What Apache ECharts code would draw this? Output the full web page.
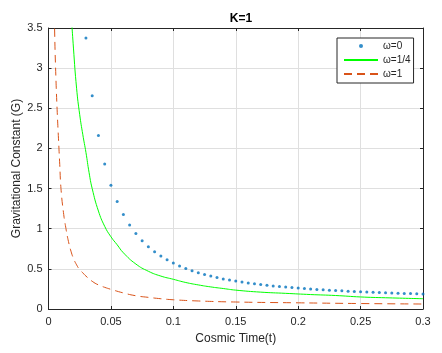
<!DOCTYPE html>
<html>
<head>
<meta charset="utf-8">
<title>K=1</title>
<script src="https://cdn.jsdelivr.net/npm/echarts@6/dist/echarts.min.js"></script>
<style>
  html, body { margin: 0; padding: 0; background: #fff; }
  #chart { width: 442px; height: 353px; }
</style>
</head>
<body>
<div id="chart"></div>
<script>
// omega = 0 (dots)
var tDots = [0.030, 0.035, 0.040, 0.045, 0.050, 0.055, 0.060, 0.065, 0.070, 0.075,
             0.080, 0.085, 0.090, 0.095, 0.100, 0.105, 0.110, 0.115, 0.120, 0.125,
             0.130, 0.135, 0.140, 0.145, 0.150, 0.155, 0.160, 0.165, 0.170, 0.175,
             0.180, 0.185, 0.190, 0.195, 0.200, 0.205, 0.210, 0.215, 0.220, 0.225,
             0.230, 0.235, 0.240, 0.245, 0.250, 0.255, 0.260, 0.265, 0.270, 0.275,
             0.280, 0.285, 0.290, 0.295, 0.300];
var gDots = [3.375, 2.656, 2.160, 1.805, 1.542, 1.338, 1.176, 1.045, 0.939, 0.850,
             0.775, 0.713, 0.660, 0.613, 0.573, 0.537, 0.505, 0.477, 0.452, 0.430,
             0.410, 0.392, 0.375, 0.361, 0.348, 0.336, 0.325, 0.315, 0.305, 0.296,
             0.288, 0.280, 0.273, 0.267, 0.261, 0.255, 0.249, 0.244, 0.239, 0.234,
             0.230, 0.226, 0.222, 0.218, 0.214, 0.211, 0.208, 0.205, 0.202, 0.199,
             0.197, 0.194, 0.192, 0.190, 0.188];

// omega = 1/4 (solid green)
var tQuarter = [0.015, 0.0175, 0.020, 0.0225, 0.025, 0.0275, 0.030, 0.0325, 0.035, 0.040,
                0.045, 0.050, 0.055, 0.060, 0.070, 0.080, 0.090, 0.100, 0.110, 0.120,
                0.130, 0.140, 0.150, 0.170, 0.190, 0.210, 0.230, 0.250, 0.270, 0.300];
var gQuarter = [4.60, 3.85, 3.25, 2.75, 2.42, 2.17, 1.95, 1.70, 1.50, 1.22,
                1.03, 0.90, 0.80, 0.70, 0.56, 0.47, 0.41, 0.37, 0.33, 0.30,
                0.275, 0.255, 0.235, 0.21, 0.195, 0.18, 0.168, 0.150, 0.140, 0.128];

// omega = 1 (dashed orange)
var tOne = [0.004, 0.005, 0.006, 0.007, 0.008, 0.009, 0.010, 0.012, 0.014, 0.016,
            0.018, 0.020, 0.0225, 0.025, 0.0275, 0.030, 0.035, 0.040, 0.045, 0.050,
            0.060, 0.070, 0.080, 0.090, 0.100, 0.120, 0.150, 0.200, 0.250, 0.300];
var gOne = [4.30, 3.40, 2.85, 2.45, 2.12, 1.80, 1.50, 1.20, 1.00, 0.84,
            0.72, 0.63, 0.55, 0.49, 0.45, 0.41, 0.345, 0.30, 0.27, 0.245,
            0.20, 0.165, 0.145, 0.128, 0.115, 0.100, 0.087, 0.077, 0.068, 0.062];

function pairs(xs, ys) {
  var out = [];
  for (var i = 0; i < xs.length; i++) out.push([xs[i], ys[i]]);
  return out;
}

var txt = '#262626';
var font = 'Liberation Sans, Arial, Helvetica, sans-serif';

var myChart = echarts.init(document.getElementById('chart'));
var option = {
  backgroundColor: '#fff',
  animation: false,
  textStyle: { fontFamily: font },
  title: {
    text: 'K=1',
    left: 236,
    top: 8,
    textAlign: 'center',
    textStyle: { fontFamily: font, fontSize: 12, fontWeight: 'bold', color: '#000' }
  },
  grid: { left: 48.5, right: 19, top: 28, bottom: 44, containLabel: false, outerBoundsMode: 'none' },
  legend: {
    orient: 'vertical',
    left: 337,
    top: 38,
    itemWidth: 34,
    itemHeight: 4,
    itemGap: 2,
    padding: [2, 3, 3, 6],
    borderColor: txt,
    borderWidth: 1,
    backgroundColor: '#fff',
    textStyle: { fontFamily: font, fontSize: 10, color: txt, lineHeight: 12 },
    data: [
      { name: 'ω=0' },
      { name: 'ω=1/4', itemStyle: { opacity: 0 } },
      { name: 'ω=1', itemStyle: { opacity: 0 } }
    ]
  },
  xAxis: [{
    type: 'value',
    min: 0, max: 0.3, interval: 0.05,
    name: 'Cosmic Time(t)',
    nameLocation: 'middle',
    nameGap: 24,
    nameTextStyle: { fontFamily: font, fontSize: 12, color: txt },
    axisLine: { onZero: false, lineStyle: { color: txt } },
    axisTick: { inside: true, length: 3, lineStyle: { color: txt } },
    axisLabel: { fontFamily: font, fontSize: 11, color: txt, margin: 7 },
    splitLine: { lineStyle: { color: '#dfdfdf' } }
  }, {
    type: 'value', position: 'top',
    min: 0, max: 0.3, interval: 0.05,
    axisLine: { onZero: false, lineStyle: { color: txt } },
    axisTick: { inside: true, length: 3, lineStyle: { color: txt } },
    axisLabel: { show: false },
    splitLine: { show: false }
  }],
  yAxis: [{
    type: 'value',
    min: 0, max: 3.5, interval: 0.5,
    name: 'Gravitational Constant (G)',
    nameLocation: 'middle',
    nameGap: 26,
    nameMoveOverlap: false,
    nameTextStyle: { fontFamily: font, fontSize: 12, color: txt },
    axisLine: { show: true, onZero: false, lineStyle: { color: txt } },
    axisTick: { show: true, inside: true, length: 3, lineStyle: { color: txt } },
    axisLabel: { fontFamily: font, fontSize: 11, color: txt, margin: 6 },
    splitLine: { lineStyle: { color: '#dfdfdf' } }
  }, {
    type: 'value', position: 'right',
    min: 0, max: 3.5, interval: 0.5,
    axisLine: { show: true, onZero: false, lineStyle: { color: txt } },
    axisTick: { show: true, inside: true, length: 3, lineStyle: { color: txt } },
    axisLabel: { show: false },
    splitLine: { show: false }
  }],
  series: [
    {
      name: 'ω=0',
      type: 'scatter',
      symbol: 'circle',
      symbolSize: 3,
      itemStyle: { color: '#0072BD' },
      data: pairs(tDots, gDots)
    },
    {
      name: 'ω=1/4',
      type: 'line',
      showSymbol: false,
      symbol: 'none',
      smooth: true,
      lineStyle: { color: '#00ff00', width: 1 },
      itemStyle: { color: '#00ff00' },
      data: pairs(tQuarter, gQuarter)
    },
    {
      name: 'ω=1',
      type: 'line',
      showSymbol: false,
      symbol: 'none',
      smooth: true,
      lineStyle: { color: '#D95319', width: 1, type: [8, 5] },
      itemStyle: { color: '#D95319' },
      data: pairs(tOne, gOne)
    }
  ]
};
myChart.setOption(option);
</script>
</body>
</html>
